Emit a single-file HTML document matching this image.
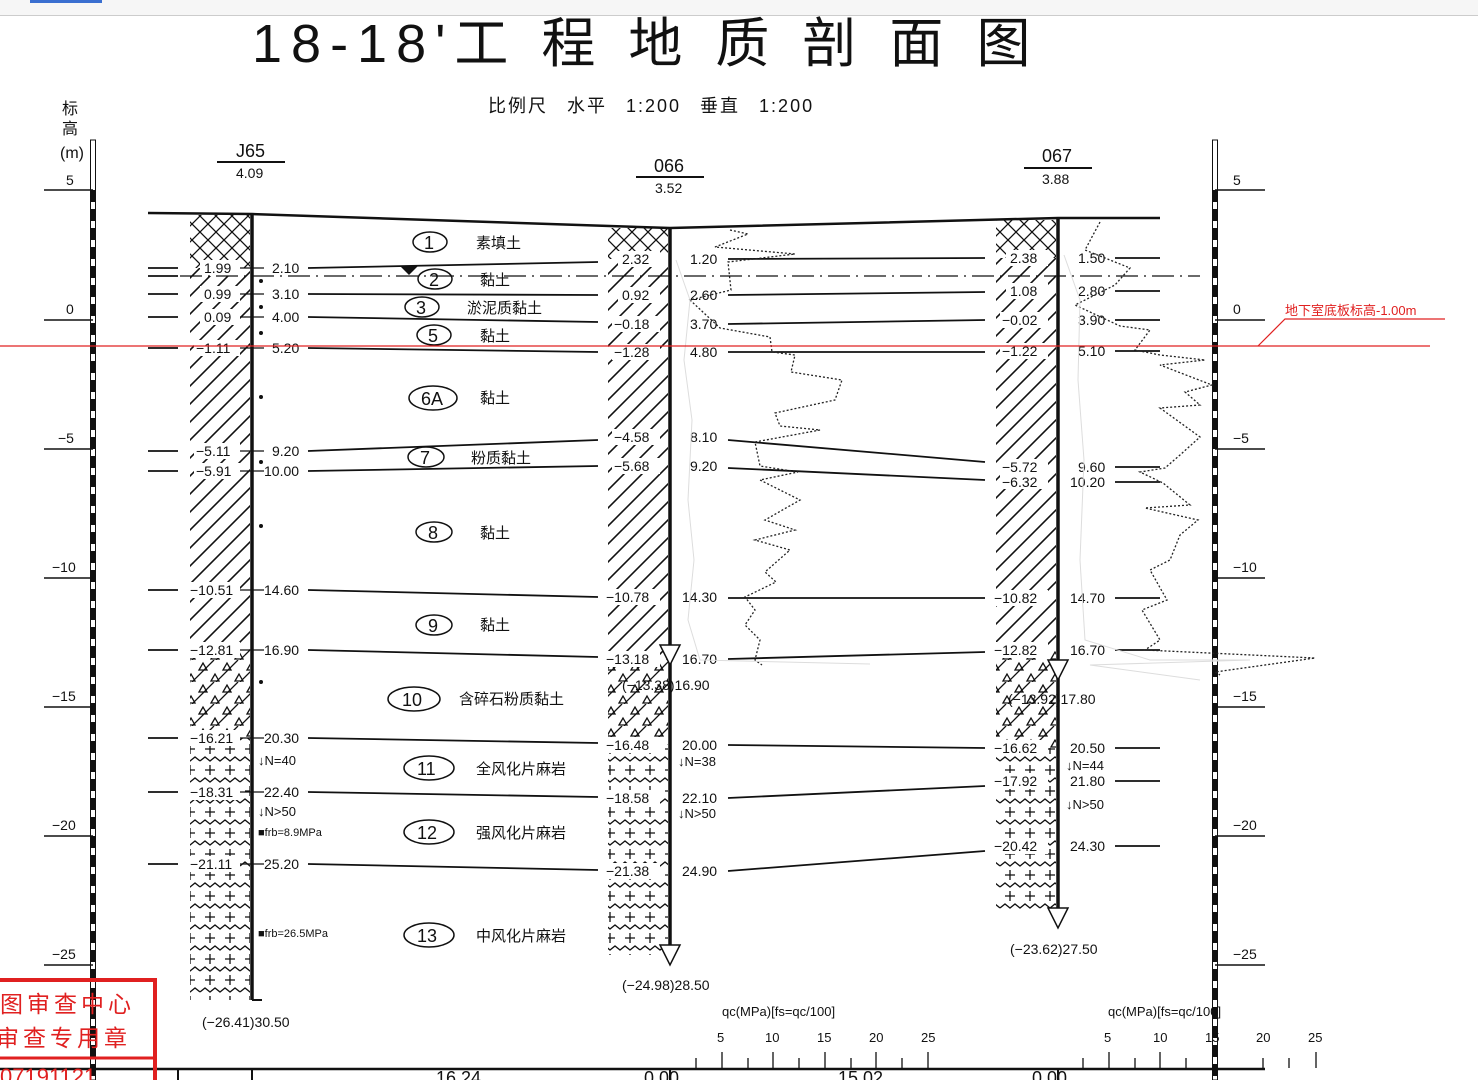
<!DOCTYPE html>
<html><head><meta charset="utf-8"><style>
body{margin:0;background:#fff;width:1478px;height:1080px;overflow:hidden}
svg{display:block}
text{font-family:"Liberation Sans","Noto Sans CJK SC",sans-serif;fill:#111}
.n{font-size:14px}
.c{font-size:15px}
</style></head><body>
<svg width="1478" height="1080" viewBox="0 0 1478 1080" xmlns="http://www.w3.org/2000/svg">
<defs>
<pattern id="hat" width="18" height="18" patternUnits="userSpaceOnUse"><path d="M-2,20 L20,-2 M-2,2 L2,-2 M16,20 L20,16" stroke="#111" stroke-width="1.6"/></pattern>
<pattern id="xh" width="16" height="16" patternUnits="userSpaceOnUse"><path d="M0,0 L16,16 M16,0 L0,16" stroke="#111" stroke-width="1.3"/></pattern>
<pattern id="tri" width="24" height="22" patternUnits="userSpaceOnUse"><path d="M-2,24 L22,0" stroke="#111" stroke-width="1.3"/><path d="M7,10 L11,3 L15,10Z M-5,21 L-1,14 L3,21Z M19,21 L23,14 L27,21Z" fill="none" stroke="#111" stroke-width="1.3"/></pattern>
<pattern id="rock" width="40" height="21" patternUnits="userSpaceOnUse"><path d="M0,5 L5,1 L10,5 L15,1 L20,5 L25,1 L30,5 L35,1 L40,5" fill="none" stroke="#111" stroke-width="1.3"/><path d="M10,9 V19 M5,14 H15 M30,9 V19 M25,14 H35" stroke="#111" stroke-width="1.3"/></pattern>
</defs>
<rect x="0" y="0" width="1478" height="15" fill="#f6f6f6"/><line x1="0" y1="15.5" x2="1478" y2="15.5" stroke="#ccc"/>
<rect x="30" y="0" width="72" height="3" fill="#3a6fd0"/>
<text x="252" y="62" style="font-size:54px;letter-spacing:9px">18-18'工 程 地 质 剖 面 图</text>
<text x="488" y="112" style="font-size:18px;letter-spacing:2px;word-spacing:12px">比例尺 水平 1:200  垂直 1:200</text>
<text x="62" y="114" style="font-size:16px">标</text><text x="62" y="134" style="font-size:16px">高</text><text x="60" y="158" style="font-size:16px">(m)</text>
<g>
<rect x="90.5" y="140" width="5" height="940" fill="#fff" stroke="#111" stroke-width="1"/>
<line x1="93" y1="190" x2="93" y2="1080" stroke="#111" stroke-width="5" stroke-dasharray="12 7"/>
<rect x="1212.5" y="140" width="5" height="940" fill="#fff" stroke="#111" stroke-width="1"/>
<line x1="1215" y1="190" x2="1215" y2="1080" stroke="#111" stroke-width="5" stroke-dasharray="12 7"/>
</g>
<g stroke="#111" stroke-width="1.5">
<line x1="44" y1="190" x2="93" y2="190"/><line x1="44" y1="320" x2="93" y2="320"/><line x1="44" y1="449" x2="93" y2="449"/><line x1="44" y1="578" x2="93" y2="578"/><line x1="44" y1="707" x2="93" y2="707"/><line x1="44" y1="836" x2="93" y2="836"/><line x1="44" y1="965" x2="93" y2="965"/>
<line x1="1215" y1="190" x2="1265" y2="190"/><line x1="1215" y1="320" x2="1265" y2="320"/><line x1="1215" y1="449" x2="1265" y2="449"/><line x1="1215" y1="578" x2="1265" y2="578"/><line x1="1215" y1="707" x2="1265" y2="707"/><line x1="1215" y1="836" x2="1265" y2="836"/><line x1="1215" y1="965" x2="1265" y2="965"/>
</g>
<g class="n">
<text x="66" y="185">5</text><text x="66" y="314">0</text><text x="58" y="443">−5</text><text x="52" y="572">−10</text><text x="52" y="701">−15</text><text x="52" y="830">−20</text><text x="52" y="959">−25</text>
<text x="1233" y="185">5</text><text x="1233" y="314">0</text><text x="1233" y="443">−5</text><text x="1233" y="572">−10</text><text x="1233" y="701">−15</text><text x="1233" y="830">−20</text><text x="1233" y="959">−25</text>
</g>
<text x="236" y="157" style="font-size:18px">J65</text><line x1="217" y1="162" x2="285" y2="162" stroke="#111" stroke-width="2"/><text x="236" y="178" class="n">4.09</text>
<text x="654" y="172" style="font-size:18px">066</text><line x1="636" y1="177" x2="704" y2="177" stroke="#111" stroke-width="2"/><text x="655" y="193" class="n">3.52</text>
<text x="1042" y="162" style="font-size:18px">067</text><line x1="1024" y1="168" x2="1092" y2="168" stroke="#111" stroke-width="2"/><text x="1042" y="184" class="n">3.88</text>
<rect x="190" y="215" width="60" height="53" fill="url(#xh)"/>
<rect x="190" y="268" width="60" height="382" fill="url(#hat)"/>
<rect x="190" y="650" width="60" height="88" fill="url(#tri)"/>
<rect x="190" y="738" width="60" height="262" fill="url(#rock)"/>
<rect x="608" y="228" width="60" height="31" fill="url(#xh)"/>
<rect x="608" y="259" width="60" height="400" fill="url(#hat)"/>
<rect x="608" y="659" width="60" height="86" fill="url(#tri)"/>
<rect x="608" y="745" width="60" height="210" fill="url(#rock)"/>
<rect x="996" y="220" width="60" height="38" fill="url(#xh)"/>
<rect x="996" y="258" width="60" height="392" fill="url(#hat)"/>
<rect x="996" y="650" width="60" height="98" fill="url(#tri)"/>
<rect x="996" y="748" width="60" height="164" fill="url(#rock)"/>
<!-- label backgrounds -->
<g fill="#fff">
<rect x="200" y="260" width="40" height="16"/><rect x="200" y="286" width="40" height="16"/><rect x="200" y="309" width="40" height="16"/><rect x="194" y="340" width="46" height="16"/><rect x="194" y="443" width="46" height="16"/><rect x="194" y="463" width="46" height="16"/><rect x="188" y="582" width="52" height="16"/><rect x="188" y="642" width="52" height="16"/><rect x="188" y="730" width="52" height="16"/><rect x="188" y="784" width="52" height="16"/><rect x="188" y="856" width="52" height="16"/>
<rect x="618" y="251" width="42" height="16"/><rect x="618" y="287" width="42" height="16"/><rect x="612" y="316" width="48" height="16"/><rect x="612" y="344" width="48" height="16"/><rect x="612" y="429" width="48" height="16"/><rect x="612" y="458" width="48" height="16"/><rect x="604" y="589" width="56" height="16"/><rect x="604" y="651" width="56" height="16"/><rect x="604" y="737" width="56" height="16"/><rect x="604" y="790" width="56" height="16"/><rect x="604" y="863" width="56" height="16"/>
<rect x="1006" y="250" width="42" height="16"/><rect x="1006" y="283" width="42" height="16"/><rect x="1000" y="312" width="48" height="16"/><rect x="1000" y="343" width="48" height="16"/><rect x="1000" y="459" width="48" height="30"/><rect x="992" y="590" width="56" height="16"/><rect x="992" y="642" width="56" height="16"/><rect x="992" y="740" width="56" height="16"/><rect x="992" y="773" width="56" height="16"/><rect x="992" y="838" width="56" height="16"/>
</g>
<polyline points="148,213 252,214 670,228 1058,218 1160,218" fill="none" stroke="#111" stroke-width="2.5"/>
<g stroke="#111" stroke-width="3.5"><line x1="252" y1="214" x2="252" y2="1000"/><line x1="670" y1="228" x2="670" y2="958"/><line x1="1058" y1="218" x2="1058" y2="915"/></g>
<line x1="252" y1="1000" x2="262" y2="1000" stroke="#111" stroke-width="2"/>
<line x1="180" y1="276" x2="1200" y2="276" stroke="#111" stroke-width="1.3" stroke-dasharray="22 6 2 6"/>
<path d="M400,266 L418,266 L409,275Z" fill="#111"/>
<g stroke="#111" stroke-width="1.8" fill="none">
<line x1="308" y1="268" x2="598" y2="262"/><line x1="308" y1="294" x2="598" y2="295"/><line x1="308" y1="317" x2="598" y2="322"/><line x1="308" y1="348" x2="598" y2="352"/><line x1="308" y1="451" x2="598" y2="440"/><line x1="308" y1="471" x2="598" y2="466"/><line x1="308" y1="590" x2="598" y2="597"/><line x1="308" y1="650" x2="598" y2="657"/><line x1="308" y1="738" x2="598" y2="743"/><line x1="308" y1="792" x2="598" y2="797"/><line x1="308" y1="864" x2="598" y2="870"/>
<line x1="728" y1="259" x2="985" y2="258"/><line x1="728" y1="295" x2="985" y2="292"/><line x1="728" y1="324" x2="985" y2="320"/><line x1="728" y1="352" x2="985" y2="352"/><line x1="728" y1="440" x2="985" y2="462"/><line x1="728" y1="468" x2="985" y2="480"/><line x1="728" y1="598" x2="985" y2="598"/><line x1="728" y1="659" x2="985" y2="652"/><line x1="728" y1="745" x2="985" y2="748"/><line x1="728" y1="798" x2="985" y2="786"/><line x1="728" y1="871" x2="985" y2="851"/>
<line x1="1115" y1="258" x2="1160" y2="258"/><line x1="1115" y1="291" x2="1160" y2="291"/><line x1="1115" y1="320" x2="1160" y2="320"/><line x1="1115" y1="351" x2="1160" y2="351"/><line x1="1115" y1="467" x2="1160" y2="467"/><line x1="1115" y1="482" x2="1160" y2="482"/><line x1="1115" y1="598" x2="1160" y2="598"/><line x1="1115" y1="650" x2="1160" y2="650"/><line x1="1115" y1="748" x2="1160" y2="748"/><line x1="1115" y1="781" x2="1160" y2="781"/><line x1="1115" y1="846" x2="1160" y2="846"/>
<line x1="148" y1="268" x2="178" y2="268"/><line x1="148" y1="276" x2="178" y2="276"/><line x1="148" y1="294" x2="178" y2="294"/><line x1="148" y1="317" x2="178" y2="317"/><line x1="148" y1="348" x2="178" y2="348"/><line x1="148" y1="451" x2="178" y2="451"/><line x1="148" y1="471" x2="178" y2="471"/><line x1="148" y1="590" x2="178" y2="590"/><line x1="148" y1="650" x2="178" y2="650"/><line x1="148" y1="738" x2="178" y2="738"/><line x1="148" y1="792" x2="178" y2="792"/><line x1="148" y1="864" x2="178" y2="864"/>
</g>
<g class="n">
<text x="204" y="273">1.99</text><text x="272" y="273">2.10</text>
<text x="204" y="299">0.99</text><text x="272" y="299">3.10</text>
<text x="204" y="322">0.09</text><text x="272" y="322">4.00</text>
<text x="196" y="353">−1.11</text><text x="272" y="353">5.20</text>
<text x="196" y="456">−5.11</text><text x="272" y="456">9.20</text>
<text x="196" y="476">−5.91</text><text x="264" y="476">10.00</text>
<text x="190" y="595">−10.51</text><text x="264" y="595">14.60</text>
<text x="190" y="655">−12.81</text><text x="264" y="655">16.90</text>
<text x="190" y="743">−16.21</text><text x="264" y="743">20.30</text>
<text x="190" y="797">−18.31</text><text x="264" y="797">22.40</text>
<text x="190" y="869">−21.11</text><text x="264" y="869">25.20</text>
<text x="202" y="1027">(−26.41)30.50</text>
<text x="258" y="765" style="font-size:13px">↓N=40</text>
<text x="258" y="816" style="font-size:13px">↓N&gt;50</text>
<text x="258" y="836" style="font-size:11px">■frb=8.9MPa</text>
<text x="258" y="937" style="font-size:11px">■frb=26.5MPa</text>
</g>
<g fill="#111"><circle cx="261" cy="281" r="2"/><circle cx="261" cy="307" r="2"/><circle cx="261" cy="333" r="2"/><circle cx="261" cy="397" r="2"/><circle cx="261" cy="462" r="2"/><circle cx="261" cy="526" r="2"/><circle cx="261" cy="682" r="2"/></g>
<g stroke="#111" stroke-width="1.3"><line x1="240" y1="268" x2="264" y2="268"/><line x1="240" y1="294" x2="264" y2="294"/><line x1="240" y1="317" x2="264" y2="317"/><line x1="240" y1="348" x2="264" y2="348"/><line x1="240" y1="451" x2="264" y2="451"/><line x1="240" y1="471" x2="264" y2="471"/><line x1="240" y1="590" x2="264" y2="590"/><line x1="240" y1="650" x2="264" y2="650"/><line x1="240" y1="738" x2="264" y2="738"/><line x1="240" y1="792" x2="264" y2="792"/><line x1="240" y1="864" x2="264" y2="864"/></g>
<g class="n">
<text x="622" y="264">2.32</text><text x="690" y="264">1.20</text>
<text x="622" y="300">0.92</text><text x="690" y="300">2.60</text>
<text x="614" y="329">−0.18</text><text x="690" y="329">3.70</text>
<text x="614" y="357">−1.28</text><text x="690" y="357">4.80</text>
<text x="614" y="442">−4.58</text><text x="690" y="442">8.10</text>
<text x="614" y="471">−5.68</text><text x="690" y="471">9.20</text>
<text x="606" y="602">−10.78</text><text x="682" y="602">14.30</text>
<text x="606" y="664">−13.18</text><text x="682" y="664">16.70</text>
<text x="622" y="690">(−13.38)16.90</text>
<text x="606" y="750">−16.48</text><text x="682" y="750">20.00</text>
<text x="606" y="803">−18.58</text><text x="682" y="803">22.10</text>
<text x="606" y="876">−21.38</text><text x="682" y="876">24.90</text>
<text x="622" y="990">(−24.98)28.50</text>
<text x="678" y="766" style="font-size:13px">↓N=38</text>
<text x="678" y="818" style="font-size:13px">↓N&gt;50</text>
</g>
<g class="n">
<text x="1010" y="263">2.38</text><text x="1078" y="263">1.50</text>
<text x="1010" y="296">1.08</text><text x="1078" y="296">2.80</text>
<text x="1002" y="325">−0.02</text><text x="1078" y="325">3.90</text>
<text x="1002" y="356">−1.22</text><text x="1078" y="356">5.10</text>
<text x="1002" y="472">−5.72</text><text x="1078" y="472">9.60</text>
<text x="1002" y="487">−6.32</text><text x="1070" y="487">10.20</text>
<text x="994" y="603">−10.82</text><text x="1070" y="603">14.70</text>
<text x="994" y="655">−12.82</text><text x="1070" y="655">16.70</text>
<text x="1008" y="704">(−13.92)17.80</text>
<text x="994" y="753">−16.62</text><text x="1070" y="753">20.50</text>
<text x="994" y="786">−17.92</text><text x="1070" y="786">21.80</text>
<text x="994" y="851">−20.42</text><text x="1070" y="851">24.30</text>
<text x="1010" y="954">(−23.62)27.50</text>
<text x="1066" y="770" style="font-size:13px">↓N=44</text>
<text x="1066" y="809" style="font-size:13px">↓N&gt;50</text>
</g>
<g fill="#fff" stroke="#111" stroke-width="1.5"><path d="M660,645 L680,645 L670,665Z"/><path d="M660,945 L680,945 L670,965Z"/><path d="M1048,660 L1068,660 L1058,680Z"/><path d="M1048,908 L1068,908 L1058,928Z"/></g>
<polyline points="730,230 748,234 715,247 795,254 728,262 731,290 690,300 720,328 770,337 772,352 795,355 791,372 842,380 835,400 775,413 780,426 820,430 755,442 760,466 798,472 760,480 800,500 765,520 795,530 755,540 790,550 765,572 776,582 745,597 755,610 745,625 760,640 755,660 762,665" fill="none" stroke="#222" stroke-width="1.3" stroke-dasharray="2 2"/>
<polyline points="1100,222 1085,250 1130,268 1115,285 1075,305 1120,326 1150,330 1135,350 1160,355 1205,360 1160,365 1212,385 1185,392 1200,405 1160,408 1200,437 1180,455 1165,468 1140,472 1163,483 1190,505 1145,508 1198,520 1180,535 1170,560 1150,570 1167,600 1142,610 1160,640 1145,650 1315,658 1215,672 1220,675" fill="none" stroke="#222" stroke-width="1.3" stroke-dasharray="2 2"/>
<polyline points="676,260 690,300 684,360 692,420 688,500 694,560 688,620 700,660 870,664" fill="none" stroke="#ddd" stroke-width="1"/>
<polyline points="1064,255 1080,300 1078,380 1084,460 1080,560 1085,640 1150,660 1250,660 1090,665 1200,680" fill="none" stroke="#ddd" stroke-width="1"/>
<g fill="none" stroke="#111" stroke-width="1.5">
<ellipse cx="430" cy="242" rx="17" ry="10"/><ellipse cx="435" cy="279" rx="17" ry="10"/><ellipse cx="422" cy="307" rx="17" ry="10"/><ellipse cx="434" cy="335" rx="17" ry="10"/><ellipse cx="433" cy="398" rx="24" ry="12"/><ellipse cx="426" cy="457" rx="18" ry="10"/><ellipse cx="434" cy="532" rx="18" ry="10"/><ellipse cx="434" cy="625" rx="18" ry="10"/><ellipse cx="414" cy="699" rx="26" ry="12"/><ellipse cx="429" cy="768" rx="25" ry="12"/><ellipse cx="429" cy="832" rx="25" ry="12"/><ellipse cx="429" cy="935" rx="25" ry="12"/>
</g>
<g style="font-size:18px">
<text x="424" y="249">1</text><text x="429" y="286">2</text><text x="416" y="314">3</text><text x="428" y="342">5</text><text x="421" y="405">6A</text><text x="420" y="464">7</text><text x="428" y="539">8</text><text x="428" y="632">9</text><text x="402" y="706">10</text><text x="417" y="775">11</text><text x="417" y="839">12</text><text x="417" y="942">13</text>
</g>
<g class="c">
<text x="476" y="248">素填土</text><text x="480" y="285">黏土</text><text x="467" y="313">淤泥质黏土</text><text x="480" y="341">黏土</text><text x="480" y="403">黏土</text><text x="471" y="463">粉质黏土</text><text x="480" y="538">黏土</text><text x="480" y="630">黏土</text><text x="459" y="704">含碎石粉质黏土</text><text x="476" y="774">全风化片麻岩</text><text x="476" y="838">强风化片麻岩</text><text x="476" y="941">中风化片麻岩</text>
</g>
<line x1="0" y1="346" x2="1430" y2="346" stroke="#e02020" stroke-width="1.2"/>
<polyline points="1258,346 1285,319 1445,319" fill="none" stroke="#e02020" stroke-width="1.2"/>
<text x="1285" y="315" style="font-size:13px;fill:#e02020">地下室底板标高-1.00m</text>
<g class="n" style="font-size:13px">
<text x="722" y="1016">qc(MPa)[fs=qc/100]</text>
<text x="717" y="1042">5</text><text x="765" y="1042">10</text><text x="817" y="1042">15</text><text x="869" y="1042">20</text><text x="921" y="1042">25</text>
<text x="1108" y="1016">qc(MPa)[fs=qc/100]</text>
<text x="1104" y="1042">5</text><text x="1153" y="1042">10</text><text x="1205" y="1042">15</text><text x="1256" y="1042">20</text><text x="1308" y="1042">25</text>
</g>
<g stroke="#111" stroke-width="1.3">
<line x1="696" y1="1058" x2="696" y2="1068"/><line x1="722" y1="1052" x2="722" y2="1068"/><line x1="748" y1="1058" x2="748" y2="1068"/><line x1="773" y1="1052" x2="773" y2="1068"/><line x1="799" y1="1058" x2="799" y2="1068"/><line x1="825" y1="1052" x2="825" y2="1068"/><line x1="851" y1="1058" x2="851" y2="1068"/><line x1="876" y1="1052" x2="876" y2="1068"/><line x1="902" y1="1058" x2="902" y2="1068"/><line x1="928" y1="1052" x2="928" y2="1068"/>
<line x1="1083" y1="1058" x2="1083" y2="1068"/><line x1="1109" y1="1052" x2="1109" y2="1068"/><line x1="1135" y1="1058" x2="1135" y2="1068"/><line x1="1160" y1="1052" x2="1160" y2="1068"/><line x1="1186" y1="1058" x2="1186" y2="1068"/><line x1="1263" y1="1058" x2="1263" y2="1068"/><line x1="1289" y1="1058" x2="1289" y2="1068"/><line x1="1316" y1="1052" x2="1316" y2="1068"/>
</g>
<line x1="0" y1="1069" x2="1265" y2="1069" stroke="#111" stroke-width="2.5"/>
<g stroke="#111" stroke-width="2"><line x1="178" y1="1069" x2="178" y2="1080"/><line x1="252" y1="1069" x2="252" y2="1080"/><line x1="670" y1="1069" x2="670" y2="1080"/><line x1="1058" y1="1069" x2="1058" y2="1080"/></g>
<text x="436" y="1084" style="font-size:18px">16.24</text><text x="644" y="1084" style="font-size:18px">0.00</text><text x="838" y="1084" style="font-size:18px">15.02</text><text x="1032" y="1084" style="font-size:18px">0.00</text>
<g>
<path d="M0,980 H155 V1080" fill="none" stroke="#e02020" stroke-width="4"/>
<line x1="0" y1="1058" x2="155" y2="1058" stroke="#e02020" stroke-width="3"/>
<text x="0" y="1012" style="font-size:23px;fill:#e02020;letter-spacing:4px">图审查中心</text>
<text x="-4" y="1046" style="font-size:23px;fill:#e02020;letter-spacing:4px">审查专用章</text>
<text x="0" y="1084" style="font-size:22px;fill:#e02020">07191121</text>
</g>
</svg>
</body></html>
